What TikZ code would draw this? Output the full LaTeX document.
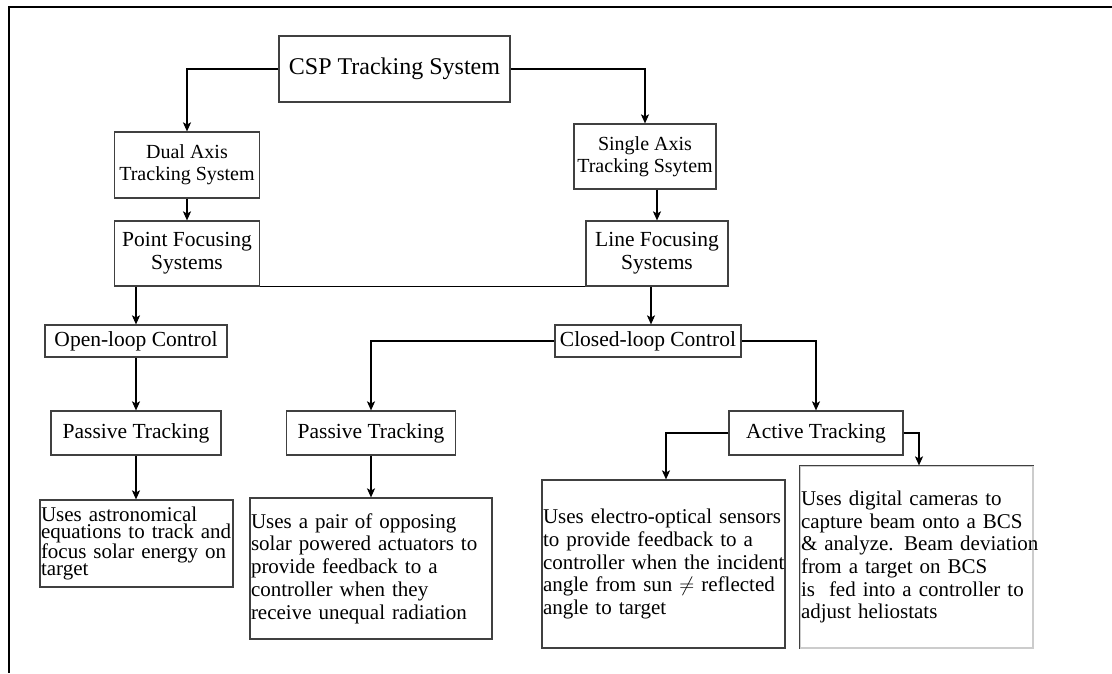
\documentclass[tikz,border=0pt]{standalone}
\usepackage{fontspec}
\setmainfont{Liberation Serif}
\usetikzlibrary{arrows.meta,positioning}
\tikzset{
  box/.style={rectangle,draw=black!75,line width=1.2pt,inner sep=0pt,align=center,font=\fontsize{21.5}{23}\selectfont},
  descbox/.style={rectangle,draw=black!75,line width=1.2pt,align=left,inner xsep=1pt,inner ysep=0pt,font=\fontsize{21}{22.7}\selectfont}
}
\begin{document}
\begin{tikzpicture}[x=1pt,y=-1pt,>={Stealth[length=9pt,width=8pt,inset=2pt]},line width=1.2pt]
    \useasboundingbox (0,0) rectangle (1112,673);
    % frame
    \draw[line width=2.5pt] (1112,7) -- (9,7) -- (9,673);
    % systems
    \node[box,minimum width=231pt,minimum height=66pt,font=\fontsize{24}{28}\selectfont] (csp) at (394.5,69) {CSP Tracking System};
    \node[box,minimum width=145pt,minimum height=66pt,font=\fontsize{20}{22}\selectfont] (dual) at (187,165) {Dual Axis\\Tracking System};
    \node[box,minimum width=142pt,minimum height=65pt,font=\fontsize{20}{22}\selectfont] (single) at (645,156.5) {Single Axis\\Tracking Ssytem};
    \node[box,minimum width=145pt,minimum height=65pt] (point) at (187,253.5) {Point Focusing\\Systems};
    \node[box,minimum width=142pt,minimum height=65pt] (line) at (657,253.5) {Line Focusing\\Systems};
    % control
    \node[box,minimum width=182pt,minimum height=32pt] (open) at (136,341) {Open-loop Control};
    \node[box,minimum width=186pt,minimum height=32pt] (closed) at (648,341) {Closed-loop Control};
    \node[box,minimum width=170pt,minimum height=44pt] (passA) at (136,433) {Passive Tracking};
    \node[box,minimum width=169pt,minimum height=44pt] (passB) at (371,433) {Passive Tracking};
    \node[box,minimum width=174pt,minimum height=44pt] (active) at (816,433) {Active Tracking};
    % descriptions
    \node[descbox,text width=191pt,minimum height=87pt,font=\fontsize{21}{16.8}\selectfont] (descA) at (136.5,543.5)
      {Uses astronomical\\\mbox{equations to track and}\\\mbox{focus solar energy on}\\target};
    \node[descbox,text width=240pt,minimum height=141pt] (descB) at (371,568.5)
      {Uses a pair of opposing\\\mbox{solar powered actuators to}\\provide feedback to a\\controller when they\\\mbox{receive unequal radiation}};
    \node[descbox,text width=241pt,minimum height=168pt] (descC) at (663.5,564)
      {\mbox{Uses electro-optical sensors}\\to provide feedback to a\\\mbox{controller when the incident}\\\mbox{angle from sun $\neq$ reflected}\\angle to target};
    \node[descbox,draw=black!20,text width=231pt,minimum height=182pt] (descD) at (916.5,557)
      {Uses digital cameras to\\\mbox{capture beam onto a BCS}\\\mbox{\& analyze. Beam deviation}\\from a target on BCS\\\mbox{is~ fed into a controller to}\\adjust heliostats};
    \draw[black!75] (descD.south west) |- (descD.north east);
    % arrows
    \draw[->] (csp.west) -| (dual.north);
    \draw[->] (csp.east) -| (single.north);
    \draw[->] (dual.south) -- (point.north);
    \draw[->] (single.south -| line.north) -- (line.north);
    \draw (point.south east) -- (line.south west);
    \draw[->] (point.south -| open.north) -- (open.north);
    \draw[->] ([xshift=-6pt]line.south) -- ([xshift=-6pt]line.south |- closed.north);
    \draw[->] (closed.west) -| (passB.north);
    \draw[->] (closed.east) -| (active.north);
    \draw[->] (open.south) -- (passA.north);
    \draw[->] (passA.south) -- (passA.south |- descA.north);
    \draw[->] (passB.south) -- (passB.south |- descB.north);
    \draw[->] (active.west) -| ([xshift=2.5pt]descC.north);
    \draw[->] (active.east) -| ([xshift=2.5pt]descD.north);
\end{tikzpicture}
\end{document}
